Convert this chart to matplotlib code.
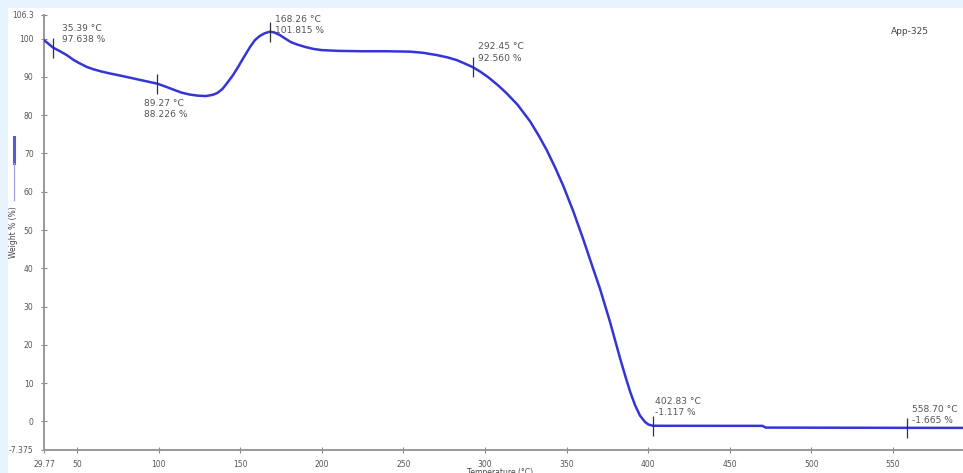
import matplotlib
matplotlib.use('agg')
import matplotlib.pyplot as plt
import matplotlib.patches as mpatches
from matplotlib.lines import Line2D

# TGA trace
temp = [29.77, 35.39, 40.0, 43.7, 48.0, 51.8, 56.0, 60.0, 65.0, 70.2, 77.0, 84.5,
        92.0, 99.27, 104.0, 109.0, 114.0, 119.0, 124.0, 129.0, 133.0, 136.0,
        139.0, 142.0, 145.8, 149.0, 152.0, 156.0, 159.0, 162.0, 165.0, 168.26,
        171.0, 174.4, 178.0, 181.0, 184.6, 190.0, 195.0, 200.0, 210.0, 225.0,
        240.0, 254.0, 262.0, 270.4, 277.0, 282.6, 287.0, 292.45, 297.0, 302.0,
        308.0, 313.3, 320.0, 327.6, 333.0, 337.8, 343.0, 348.0, 354.0, 360.2,
        365.0, 370.5, 376.6, 382.7, 386.0, 388.9, 392.0, 395.0, 398.0, 400.1,
        402.83, 410.0, 470.0, 472.0, 558.70, 600.0]
weight = [99.6, 97.638, 96.6, 95.7, 94.4, 93.5, 92.6, 92.0, 91.4, 90.9, 90.3, 89.6,
          88.9, 88.226, 87.5, 86.7, 85.9, 85.4, 85.1, 85.0, 85.3, 85.8,
          86.8, 88.4, 90.6, 92.8, 95.0, 97.8, 99.6, 100.7, 101.4, 101.815,
          101.6, 100.9, 99.9, 99.1, 98.5, 97.8, 97.3, 97.0, 96.8, 96.7,
          96.7, 96.6, 96.3, 95.7, 95.1, 94.4, 93.6, 92.56, 91.4, 89.9,
          87.8, 85.7, 82.7, 78.4, 74.6, 70.9, 66.3, 61.5, 55.0, 47.6,
          41.5, 34.6, 26.0, 16.6, 11.8, 7.8, 4.2, 1.5, -0.1, -0.8,
          -1.117, -1.13, -1.15, -1.6, -1.665, -1.68]

# marked points and their labels
mark_temp = [35.39, 99.27, 168.26, 292.45, 402.83, 558.70]
mark_weight = [97.638, 88.226, 101.815, 92.56, -1.117, -1.665]
mark_labels = ['35.39 °C\n97.638 %', '89.27 °C\n88.226 %', '168.26 °C\n101.815 %',
               '292.45 °C\n92.560 %', '402.83 °C\n-1.117 %', '558.70 °C\n-1.665 %']
# label offsets in pixels (dx, dy) from the marker to the top-left of the text
mark_offsets = [(9, 24), (-13, -15), (5, 17), (5, 25), (2, 29), (5, 23)]

xticks = [29.77, 50, 100, 150, 200, 250, 300, 350, 400, 450, 500, 550, 600]
xticklabels = ['29.77', '50', '100', '150', '200', '250', '300', '350', '400',
               '450', '500', '550', '600']
yticks = [-7.375, 0, 10, 20, 30, 40, 50, 60, 70, 80, 90, 100, 106.3]
yticklabels = ['-7.375', '0', '10', '20', '30', '40', '50', '60', '70', '80',
               '90', '100', '106.3']

W, H = 963, 473
LINE_COLOUR = '#3535d6'
TEXT_COLOUR = '#555555'

fig = plt.figure(figsize=(W / 100, H / 100), dpi=100)
fig.patch.set_facecolor('#e6f3fc')
# white panel (light blue strip left and top)
fig.add_artist(mpatches.Rectangle((8 / W, 0), 1, 1 - 8 / H, transform=fig.transFigure,
                                  facecolor='white', edgecolor='none', zorder=0))

ax = fig.add_axes([44 / W, 23.3 / H, 930.6 / W, 435.2 / H])
ax.set_facecolor('none')
ax.plot(temp, weight, color=LINE_COLOUR, lw=1.8, zorder=3, solid_joinstyle='round')
ax.plot(mark_temp, mark_weight, linestyle='none', marker='|', markersize=15,
        markeredgewidth=0.9, color='#333333', zorder=4)

for t, w, lab, (dx, dy) in zip(mark_temp, mark_weight, mark_labels, mark_offsets):
    ax.annotate(lab, (t, w), xytext=(dx * 0.72, dy * 0.72), textcoords='offset points',
                fontsize=6.6, color=TEXT_COLOUR, ha='left', va='top', linespacing=1.35,
                zorder=5)

ax.set_xlim(29.77, 600)
ax.set_ylim(-7.375, 106.3)
ax.set_xticks(xticks)
ax.set_xticklabels(xticklabels)
ax.set_yticks(yticks)
ax.set_yticklabels(yticklabels)
ax.tick_params(direction='inout', length=5, width=0.8, colors='#888888',
               labelcolor=TEXT_COLOUR, labelsize=5.5, pad=5)

for s in ['top', 'right']:
    ax.spines[s].set_visible(False)
for s in ['left', 'bottom']:
    ax.spines[s].set_color('#999999')
    ax.spines[s].set_linewidth(1.4)

ax.text(0.93, 0.96, 'App-325', transform=ax.transAxes, fontsize=6.5,
        color='#444444', ha='center', va='center')

# axis titles
fig.text(14 / W, 1 - 232 / H, 'Weight % (%)', rotation=90, fontsize=5.5,
         color='#444444', ha='center', va='center')
fig.text(500 / W, 1 - 472 / H, 'Temperature (°C)', fontsize=5.5,
         color='#444444', ha='center', va='center')

# legend swatch on the left
fig.add_artist(Line2D([14 / W, 14 / W], [1 - 137 / H, 1 - 163 / H],
                      transform=fig.transFigure, color='#5a5ad8', lw=2.2))
fig.add_artist(Line2D([14 / W, 14 / W], [1 - 163 / H, 1 - 200 / H],
                      transform=fig.transFigure, color='#a0a0dc', lw=0.9))

fig.savefig('out.png', dpi=100)
